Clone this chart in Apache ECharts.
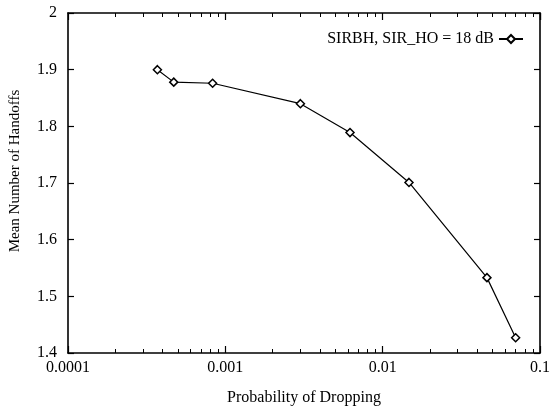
<!DOCTYPE html>
<html>
<head>
<meta charset="utf-8">
<script src="https://cdn.jsdelivr.net/npm/echarts@6/dist/echarts.min.js"></script>
<style>
  html, body { margin: 0; padding: 0; background: #fff; }
  #chart { width: 553px; height: 411px; }
</style>
</head>
<body>
<div id="chart"></div>
<script>
// data
const dropProb = [0.00037, 0.00047, 0.00083, 0.0030, 0.0062, 0.0147, 0.046, 0.070]
const meanHandoffs = [1.900, 1.878, 1.876, 1.840, 1.789, 1.701, 1.533, 1.427]
const seriesName = 'SIRBH, SIR_HO = 18 dB'

const xMajorTicks = [0.0001, 0.001, 0.01, 0.1]
const xTickLabels = ['0.0001', '0.001', '0.01', '0.1']
const xMinorTicks = [
  0.0002, 0.0003, 0.0004, 0.0005, 0.0006, 0.0007, 0.0008, 0.0009,
  0.002, 0.003, 0.004, 0.005, 0.006, 0.007, 0.008, 0.009,
  0.02, 0.03, 0.04, 0.05, 0.06, 0.07, 0.08, 0.09
]
const yTickLabels = ['1.4', '1.5', '1.6', '1.7', '1.8', '1.9', '2']

const font = 'Liberation Serif'
const black = '#000'

// log axis carrying the decade ticks
function majorAxis(pos, showLabel) {
  return {
    type: 'log',
    logBase: 10,
    min: 0.0001,
    max: 0.1,
    position: pos,
    axisLine: { show: true, onZero: false, lineStyle: { color: black, width: 1.6 } },
    axisTick: { show: true, inside: true, length: 7, lineStyle: { color: black, width: 1.2 } },
    axisLabel: {
      show: showLabel,
      margin: 7,
      fontFamily: font,
      fontSize: 16,
      color: black,
      formatter: function (v) {
        const i = xMajorTicks.findIndex(t => Math.abs(Math.log10(t) - Math.log10(v)) < 1e-6)
        return i >= 0 ? xTickLabels[i] : ''
      }
    },
    splitLine: { show: false }
  }
}

// same range in log10 units, only for the 2..9 minor ticks
function minorAxis(pos) {
  return {
    type: 'value',
    min: Math.log10(xMajorTicks[0]),
    max: Math.log10(xMajorTicks[xMajorTicks.length - 1]),
    position: pos,
    axisLine: { show: false, onZero: false },
    axisTick: { show: true, inside: true, length: 4, customValues: xMinorTicks.map(Math.log10), lineStyle: { color: black, width: 1 } },
    axisLabel: { show: false },
    splitLine: { show: false }
  }
}

const chart = echarts.init(document.getElementById('chart'))
chart.setOption({
  animation: false,
  backgroundColor: '#fff',
  textStyle: { fontFamily: font, color: black },
  grid: { left: 67, right: 13, top: 13, bottom: 50 },
  legend: {
    data: [seriesName],
    right: 24,
    top: 26,
    align: 'right',
    itemWidth: 24,
    itemHeight: 10,
    itemGap: 8,
    textStyle: { fontFamily: font, fontSize: 16, color: black }
  },
  xAxis: [
    Object.assign(majorAxis('bottom', true), {
      name: 'Probability of Dropping',
      nameLocation: 'middle',
      nameGap: 37,
      nameTextStyle: { fontFamily: font, fontSize: 16, color: black }
    }),
    minorAxis('bottom'),
    majorAxis('top', false),
    minorAxis('top')
  ],
  yAxis: [
    {
      type: 'value',
      min: 1.4,
      max: 2,
      interval: 0.1,
      position: 'left',
      name: 'Mean Number of Handoffs',
      nameLocation: 'middle',
      nameRotate: 90,
      nameGap: 45,
      nameTextStyle: { fontFamily: font, fontSize: 15, color: black, padding: [0, 0, 0, 24] },
      axisLine: { show: true, lineStyle: { color: black, width: 1.6 } },
      axisTick: { show: true, inside: true, length: 6, lineStyle: { color: black, width: 1.2 } },
      axisLabel: {
        margin: 11,
        fontFamily: font,
        fontSize: 16,
        color: black,
        formatter: function (v) {
          return yTickLabels[Math.round((v - 1.4) * 10)]
        }
      },
      splitLine: { show: false }
    },
    {
      type: 'value',
      min: 1.4,
      max: 2,
      interval: 0.1,
      position: 'right',
      axisLine: { show: true, lineStyle: { color: black, width: 1.6 } },
      axisTick: { show: true, inside: true, length: 6, lineStyle: { color: black, width: 1.2 } },
      axisLabel: { show: false },
      splitLine: { show: false }
    }
  ],
  series: [
    {
      name: seriesName,
      type: 'line',
      xAxisIndex: 0,
      yAxisIndex: 0,
      data: dropProb.map((x, i) => [x, meanHandoffs[i]]),
      symbol: 'diamond',
      symbolSize: 8,
      lineStyle: { color: black, width: 1.2 },
      itemStyle: { color: '#fff', borderColor: black, borderWidth: 1.5 }
    }
  ]
})
</script>
</body>
</html>
